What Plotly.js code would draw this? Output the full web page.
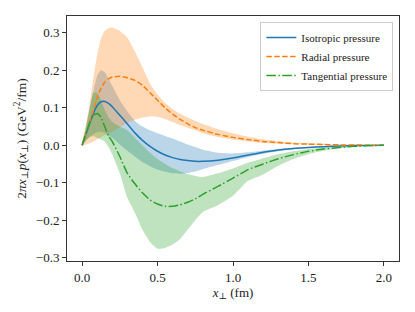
<!DOCTYPE html>
<html>
<head>
<meta charset="utf-8">
<script src="https://cdn.plot.ly/plotly-3.0.1.min.js"></script>
<style>html,body{margin:0;padding:0;background:#fff;}#chart{width:415px;height:312px;}</style>
</head>
<body>
<div id="chart"></div>
<script>
// transverse position x_perp (fm)
const xPerp = [0, 0.025, 0.05, 0.075, 0.1, 0.125, 0.15, 0.175, 0.2, 0.25, 0.3, 0.35, 0.4, 0.45, 0.5, 0.55, 0.6, 0.65, 0.7, 0.75, 0.8, 0.9, 1.0, 1.1, 1.2, 1.3, 1.4, 1.5, 1.6, 1.7, 1.8, 1.9, 2.0];

// Isotropic pressure
const isoMid   = [0, 0.028, 0.058, 0.085, 0.106, 0.116, 0.117, 0.112, 0.103, 0.08, 0.057, 0.033, 0.013, -0.003, -0.016, -0.026, -0.033, -0.038, -0.041, -0.043, -0.043, -0.04, -0.034, -0.026, -0.019, -0.013, -0.009, -0.006, -0.004, -0.002, -0.001, -0.0005, 0];
const isoUpper = [0, 0.045, 0.095, 0.145, 0.185, 0.2, 0.195, 0.178, 0.158, 0.12, 0.09, 0.065, 0.05, 0.04, 0.032, 0.025, 0.018, 0.01, 0.002, -0.005, -0.012, -0.02, -0.022, -0.019, -0.014, -0.01, -0.007, -0.005, -0.003, -0.002, -0.001, -0.0004, 0];
const isoLower = [0, 0.012, 0.022, 0.03, 0.035, 0.036, 0.033, 0.027, 0.02, 0.002, -0.015, -0.03, -0.045, -0.056, -0.065, -0.071, -0.075, -0.076, -0.074, -0.07, -0.064, -0.053, -0.042, -0.032, -0.023, -0.016, -0.011, -0.007, -0.005, -0.003, -0.0015, -0.0006, 0];

// Radial pressure
const radMid   = [0, 0.03, 0.062, 0.093, 0.127, 0.152, 0.168, 0.177, 0.182, 0.184, 0.18, 0.173, 0.16, 0.14, 0.12, 0.1, 0.083, 0.069, 0.057, 0.047, 0.04, 0.029, 0.021, 0.015, 0.01, 0.007, 0.004, 0.003, 0.002, 0.001, 0.0005, 0.0002, 0];
const radUpper = [0, 0.05, 0.11, 0.18, 0.24, 0.285, 0.305, 0.312, 0.314, 0.305, 0.287, 0.25, 0.208, 0.165, 0.135, 0.113, 0.097, 0.084, 0.074, 0.065, 0.057, 0.043, 0.032, 0.023, 0.016, 0.011, 0.007, 0.005, 0.003, 0.002, 0.001, 0.0005, 0];
const radLower = [0, 0.002, 0.005, 0.01, 0.016, 0.022, 0.027, 0.031, 0.036, 0.048, 0.06, 0.068, 0.074, 0.077, 0.076, 0.07, 0.062, 0.054, 0.047, 0.04, 0.032, 0.022, 0.015, 0.01, 0.006, 0.004, 0.003, 0.002, 0.001, 0.0006, 0.0003, 0.0001, 0];

// Tangential pressure
const tanMid   = [0, 0.03, 0.06, 0.08, 0.085, 0.075, 0.05, 0.025, 0.01, -0.03, -0.075, -0.103, -0.127, -0.146, -0.157, -0.163, -0.163, -0.159, -0.152, -0.143, -0.131, -0.11, -0.088, -0.065, -0.05, -0.036, -0.025, -0.016, -0.01, -0.006, -0.003, -0.001, 0];
const tanUpper = [0, 0.05, 0.1, 0.14, 0.14, 0.12, 0.095, 0.075, 0.062, 0.05, 0.04, 0.02, 0.0, -0.02, -0.037, -0.05, -0.061, -0.07, -0.077, -0.082, -0.085, -0.075, -0.062, -0.047, -0.035, -0.024, -0.016, -0.01, -0.006, -0.004, -0.002, -0.001, 0];
const tanLower = [0, 0.012, 0.022, 0.025, 0.02, 0.015, 0.01, -0.005, -0.025, -0.075, -0.14, -0.18, -0.225, -0.258, -0.276, -0.274, -0.265, -0.25, -0.225, -0.2, -0.178, -0.16, -0.135, -0.095, -0.078, -0.055, -0.037, -0.024, -0.015, -0.009, -0.005, -0.002, 0];

const seriesNames = ['Isotropic pressure', 'Radial pressure', 'Tangential pressure'];
const xTicks = [0, 0.5, 1.0, 1.5, 2.0];
const yTicks = [-0.3, -0.2, -0.1, 0.0, 0.1, 0.2, 0.3];

const colors = ['#1f77b4', '#ff7f0e', '#2ca02c'];
const fills = ['rgba(31,119,180,0.3)', 'rgba(255,127,14,0.3)', 'rgba(44,160,44,0.3)'];
const dashes = ['solid', '5.5px,2.4px', '9.6px,2.4px,1.5px,2.4px'];
const mids = [isoMid, radMid, tanMid];
const uppers = [isoUpper, radUpper, tanUpper];
const lowers = [isoLower, radLower, tanLower];

const traces = [];
for (let i = 0; i < 3; i++) {
  traces.push({
    x: xPerp.concat(xPerp.slice().reverse()),
    y: uppers[i].concat(lowers[i].slice().reverse()),
    type: 'scatter', mode: 'lines', fill: 'toself',
    fillcolor: fills[i], line: {width: 0, shape: 'spline', smoothing: 0.5},
    hoverinfo: 'skip', showlegend: false
  });
}
for (let i = 0; i < 3; i++) {
  traces.push({
    x: xPerp, y: mids[i], name: seriesNames[i],
    type: 'scatter', mode: 'lines',
    line: {color: colors[i], width: 1.5, dash: dashes[i], shape: 'spline', smoothing: 0.5}
  });
}

const fam = 'Liberation Serif, DejaVu Serif, serif';
const font = {family: fam, size: 13, color: '#222'};
const layout = {
  width: 415, height: 312,
  margin: {l: 67, r: 16, t: 16, b: 51},
  paper_bgcolor: '#fff', plot_bgcolor: '#fff',
  font: font,
  showlegend: true,
  legend: {
    x: 0.983, y: 0.976, xanchor: 'right', yanchor: 'top',
    bgcolor: 'rgba(255,255,255,0.8)', bordercolor: '#cccccc', borderwidth: 1,
    font: {family: fam, size: 11, color: '#222'},
    itemwidth: 30, tracegroupgap: 0
  },
  xaxis: {
    range: [-0.1, 2.1], tickvals: xTicks, tickformat: '.1f',
    showgrid: false, zeroline: false,
    showline: true, mirror: true, linecolor: '#333', linewidth: 1,
    ticks: 'outside', ticklen: 4, tickcolor: '#333',
    tickfont: font,
    title: {text: '<i>x</i><sub>⊥</sub> (fm)', standoff: 2, font: font}
  },
  yaxis: {
    range: [-0.309, 0.345], tickvals: yTicks, tickformat: '.1f',
    showgrid: false, zeroline: false,
    showline: true, mirror: true, linecolor: '#333', linewidth: 1,
    ticks: 'outside', ticklen: 4, tickcolor: '#333',
    tickfont: font,
    title: {text: '2<i>πx</i><sub>⊥</sub><i>p</i>(<i>x</i><sub>⊥</sub>) (GeV<sup>2</sup>/fm)', standoff: 6, font: {family: fam, size: 13.5, color: '#222'}}
  }
};

Plotly.newPlot('chart', traces, layout, {staticPlot: true, displayModeBar: false});
</script>
</body>
</html>
